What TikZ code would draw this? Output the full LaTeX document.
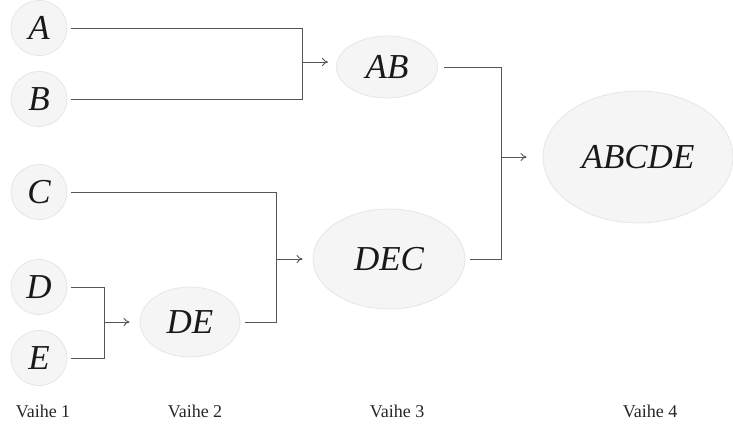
\documentclass[tikz,border=0pt]{standalone}
\usepackage{fontspec}
\setmainfont{Liberation Serif}
\usetikzlibrary{shapes.geometric,arrows.meta}
\definecolor{nodefill}{HTML}{F5F5F5}
\definecolor{nodeline}{HTML}{E6E6E6}
\definecolor{linkcol}{HTML}{555555}
\tikzset{
  blob/.style={ellipse, fill=nodefill, draw=nodeline, line width=0.8pt, inner sep=0pt,
    font=\fontsize{35}{37}\selectfont\itshape, text=black!90},
  link/.style={draw=linkcol, line width=0.9pt},
  arr/.style={link, -{To[length=6pt,width=8pt]}},
  stage/.style={font=\fontsize{18}{20}\selectfont, text=black!85}
}
\begin{document}
\begin{tikzpicture}[x=1pt,y=-1pt]
\useasboundingbox (0,0) rectangle (733,427);
% stage 1
\node[blob, minimum width=56, minimum height=55] (A) at (39,28) {A};
\node[blob, minimum width=56, minimum height=55] (B) at (39,99) {B};
\node[blob, minimum width=56, minimum height=55] (C) at (39,192) {C};
\node[blob, minimum width=56, minimum height=55] (D) at (39,287) {D};
\node[blob, minimum width=56, minimum height=55] (E) at (39,358) {E};
% stage 2
\node[blob, minimum width=100, minimum height=70] (DE) at (190,322) {DE};
% stage 3
\node[blob, minimum width=101, minimum height=62] (AB) at (387,67) {AB};
\node[blob, minimum width=152, minimum height=100] (DEC) at (389,259) {DEC};
% stage 4
\node[blob, minimum width=190, minimum height=132] (ABCDE) at (638,157) {ABCDE};
% junction coordinates
\coordinate (jAB) at (302,62);
\coordinate (jDE) at (104,322);
\coordinate (jDEC) at (276,259);
\coordinate (jF) at (501,157);
% connectors
\draw[link] ([xshift=4pt]A.east) -- (jAB |- A.east) -- (jAB |- B.east) -- ([xshift=4pt]B.east);
\draw[arr] (jAB) -- ([xshift=-8pt]AB.west |- jAB);
\draw[link] ([xshift=4pt]D.east) -- (jDE |- D.east) -- (jDE |- E.east) -- ([xshift=4pt]E.east);
\draw[arr] (jDE) -- ([xshift=-10pt]DE.west |- jDE);
\draw[link] ([xshift=4pt]C.east) -- (jDEC |- C.east) -- (jDEC |- DE.east) -- ([xshift=5pt]DE.east);
\draw[arr] (jDEC) -- ([xshift=-10pt]DEC.west |- jDEC);
\draw[link] ([xshift=6pt]AB.east) -- (jF |- AB.east) -- (jF |- DEC.east) -- ([xshift=5pt]DEC.east);
\draw[arr] (jF) -- ([xshift=-16pt]ABCDE.west |- jF);
% stage labels
\node[stage] (s1) at (43,411) {Vaihe 1};
\node[stage] (s2) at (195,411) {Vaihe 2};
\node[stage] (s3) at (397,411) {Vaihe 3};
\node[stage] (s4) at (650,411) {Vaihe 4};
\end{tikzpicture}
\end{document}
